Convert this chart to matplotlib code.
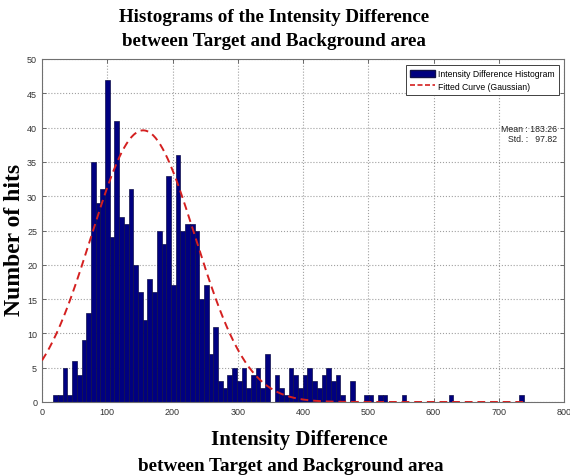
import numpy as np
import matplotlib
matplotlib.use("Agg")
import matplotlib.pyplot as plt
from matplotlib.patches import Patch
from matplotlib.lines import Line2D

# histogram counts (100 bins)
counts = [1, 1, 5, 1, 6, 4, 9, 13, 35, 29,
          31, 47, 24, 41, 27, 26, 31, 20, 16, 12,
          18, 16, 25, 23, 33, 17, 36, 25, 26, 26,
          25, 15, 17, 7, 11, 3, 2, 4, 5, 3,
          5, 2, 4, 5, 2, 7, 0, 4, 2, 1,
          5, 4, 2, 4, 5, 3, 2, 4, 5, 3,
          4, 1, 0, 3, 0, 0, 1, 1, 0, 1,
          1, 0, 0, 0, 1, 0, 0, 0, 0, 0,
          0, 0, 0, 0, 1, 0, 0, 0, 0, 0,
          0, 0, 0, 0, 0, 0, 0, 0, 0, 1]
bin_start = 17.3
bin_width = 7.214

# fitted gaussian as drawn
fit_amp = 39.6
fit_mu = 155.0
fit_sigma = 80.0
fit_range = (0, 739)

mean_val = 183.26
std_val = 97.82

xticks = list(range(0, 801, 100))
yticks = list(range(0, 51, 5))

fig = plt.figure(figsize=(5.7, 4.77), dpi=100)
ax = fig.add_axes([42/570, 74/477, 522/570, 343/477])

lefts = bin_start + bin_width*np.arange(len(counts))
ax.bar(lefts, counts, width=bin_width, align='edge', color='#000080',
       edgecolor='#10104a', linewidth=0.5, zorder=2)

xs = np.linspace(fit_range[0], fit_range[1], 400)
ax.plot(xs, fit_amp*np.exp(-(xs - fit_mu)**2/(2*fit_sigma**2)),
        color='#d42020', linestyle=(0, (4, 2.5)), linewidth=1.4, zorder=3)

ax.set_xlim(0, 800)
ax.set_ylim(0, 50)
ax.set_xticks(xticks)
ax.set_yticks(yticks)
ax.grid(True, linestyle=':', color='#a0a0a0', linewidth=0.8, zorder=0)
ax.set_axisbelow(True)
ax.tick_params(direction='in', top=True, right=True, length=3, width=0.6,
               labelsize=6.5, colors='#555555', labelcolor='#333333')
for lab in ax.get_xticklabels() + ax.get_yticklabels():
    lab.set_family('Liberation Sans')
for s in ax.spines.values():
    s.set_color('#707070')
    s.set_linewidth(0.8)

handles = [Patch(facecolor='#000080', edgecolor='#10104a'),
           Line2D([], [], color='#d42020', linestyle=(0, (3, 1.5)), linewidth=1.2)]
leg = ax.legend(handles, ['Intensity Difference Histogram', 'Fitted Curve (Gaussian)'],
                loc='upper right', bbox_to_anchor=(0.998, 0.995), fancybox=False,
                prop={'family': 'Liberation Sans', 'size': 6.2}, handlelength=2.9,
                handleheight=1.0, handletextpad=0.3, borderpad=0.5,
                labelspacing=0.4, framealpha=1)
leg.get_frame().set_edgecolor('#404040')
leg.get_frame().set_linewidth(0.7)

ax.text(0.986, 0.81, 'Mean : %.2f\nStd. :   %.2f' % (mean_val, std_val),
        transform=ax.transAxes, ha='right', va='top', fontsize=6.3,
        family='Liberation Sans', color='#222222', linespacing=1.1)

serif = 'Liberation Serif'
fig.text(0.48, 0.982, 'Histograms of the Intensity Difference\nbetween Target and Background area',
         ha='center', va='top', fontsize=13.7, fontweight='bold', family=serif,
         linespacing=1.55)
fig.text(0.525, 0.056, 'Intensity Difference', ha='center', va='bottom',
         fontsize=15, fontweight='bold', family=serif)
fig.text(0.51, 0.005, 'between Target and Background area', ha='center', va='bottom',
         fontsize=13.8, fontweight='bold', family=serif)
fig.text(0.025, 0.497, 'Number of hits', rotation=90, ha='center', va='center',
         fontsize=17, fontweight='bold', family=serif)

fig.savefig('out.png', dpi=100)
